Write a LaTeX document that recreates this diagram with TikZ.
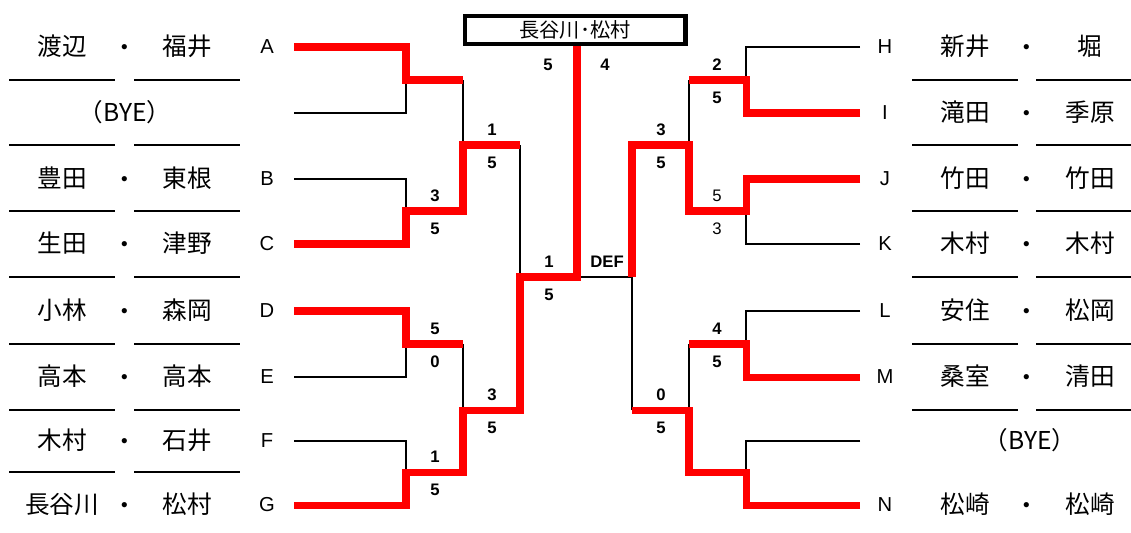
\documentclass[tikz,border=0pt]{standalone}
\usepackage{fontspec}
\setmainfont{Liberation Sans}
\newfontfamily\jp{Noto Sans CJK JP}
\usetikzlibrary{positioning}

\begin{document}
\begin{tikzpicture}[
    x=0.02cm, y=-0.02cm,
    lose/.style={line width=1.1pt},
    win/.style={line width=4pt, red},
    sep/.style={line width=0.9pt},
    player/.style={font=\jp\fontsize{14}{16}\selectfont, inner sep=0pt, text height=1em, text depth=0em},
    dotmark/.style={player, yshift=-0.02cm},
    slot/.style={font=\fontsize{11.5}{13}\selectfont, inner sep=0pt},
    champbox/.style={draw, line width=2.3pt, minimum width=4.42cm, minimum height=0.56cm, inner sep=0pt, font=\jp\fontsize{11.5}{13}\selectfont},
    score/.style={font=\bfseries\fontsize{9.5}{11}\selectfont, inner sep=0pt},
    plainscore/.style={font=\fontsize{9.5}{11}\selectfont, inner sep=0pt}
]
\useasboundingbox (0,0) rectangle (1131,532);

\foreach \y/\a/\b/\l in {47/渡辺/福井/A, 179/豊田/東根/B, 244/生田/津野/C, 311/小林/森岡/D, 377/高本/高本/E, 441/木村/石井/F, 505/長谷川/松村/G} {
  \node[player] (first\l) at (62,\y) {\a};
  \node[dotmark] (dot\l) at (125,\y) {・};
  \node[player] (second\l) at (187,\y) {\b};
  \node[slot] (l\l) at (267,\y) {\l};
  \coordinate (e\l) at (294,\y);
}
\foreach \y/\a/\b/\l in {47/新井/堀/H, 113/滝田/季原/I, 179/竹田/竹田/J, 244/木村/木村/K, 311/安住/松岡/L, 377/桑室/清田/M, 505/松崎/松崎/N} {
  \node[slot] (l\l) at (885,\y) {\l};
  \node[player] (first\l) at (965,\y) {\a};
  \node[dotmark] (dot\l) at (1027,\y) {・};
  \node[player] (second\l) at (1090,\y) {\b};
  \coordinate (e\l) at (860,\y);
}
\node[player] (bye1) at (125,113) {（BYE）};
\node[player] (bye2) at (1030,441) {（BYE）};
\coordinate (eY1) at (294,113);
\coordinate (eY2) at (860,441);

\foreach \y in {80,145,211,277,344,410,472}
  \draw[sep] (9,\y) -- (115,\y) (134,\y) -- (240,\y);
\foreach \y in {80,145,211,277,344,410}
  \draw[sep] (912,\y) -- (1018,\y) (1036,\y) -- (1131,\y);

\coordinate (m1) at (406,80);
\coordinate (m2) at (406,211);
\coordinate (m3) at (406,344);
\coordinate (m4) at (406,472);
\coordinate (q1) at (463,145);
\coordinate (q2) at (463,410);
\coordinate (s1) at (520,277);
\coordinate (f) at (577,277);
\coordinate (n1) at (746,80);
\coordinate (n2) at (746,211);
\coordinate (n3) at (746,344);
\coordinate (n4) at (746,472);
\coordinate (p1) at (689,145);
\coordinate (p2) at (689,410);
\coordinate (t1) at (632,277);

\node[champbox] (champ) at (575,30) {長谷川･松村};

\draw[lose] (eY1) -| (m1);
\draw[lose] (eB) -| (m2);
\draw[lose] (eE) -| (m3);
\draw[lose] (eF) -| (m4);
\draw[lose] (m1 -| q1) -- (q1);
\draw[lose] (m3 -| q2) -- (q2);
\draw[lose] (q1 -| s1) -- (s1);
\draw[lose] (f) -- (t1);
\draw[lose] (eH) -| (n1);
\draw[lose] (eK) -| (n2);
\draw[lose] (eL) -| (n3);
\draw[lose] (eY2) -| (n4);
\draw[lose] (n1 -| p1) -- (p1);
\draw[lose] (n3 -| p2) -- (p2);
\draw[lose] (p2 -| t1) -- (t1);

\draw[win] (eA) -| (m1) -- (m1 -| q1);
\draw[win] (eC) -| (m2) -- (m2 -| q1) -- (q1) -- (q1 -| s1);
\draw[win] (eD) -| (m3) -- (m3 -| q2);
\draw[win] (eG) -| (m4) -- (m4 -| q2) -- (q2) -- (q2 -| s1) -- (s1) -- (f) -- (f |- champ.south);
\draw[win] (eI) -| (n1) -- (n1 -| p1);
\draw[win] (eJ) -| (n2) -- (n2 -| p1) -- (p1) -- (p1 -| t1) -- (t1);
\draw[win] (eM) -| (n3) -- (n3 -| p2);
\draw[win] (eN) -| (n4) -- (n4 -| p2) -- (p2) -- (p2 -| t1);

\foreach \x/\y/\a/\b [count=\k] in {435/211/3/5, 435/344/5/0, 435/472/1/5, 492/145/1/5, 492/410/3/5, 549/277/1/5, 717/80/2/5, 717/344/4/5, 661/145/3/5, 661/410/0/5} {
  \node[score] (hi\k) at (\x,\y-15) {\a};
  \node[score] (lo\k) at (\x,\y+18) {\b};
}
\node[plainscore] (hiJ) at (717,196) {5};
\node[plainscore] (loK) at (717,229) {3};
\node[score] (finL) at (548,65) {5};
\node[score] (finR) at (605,65) {4};
\node[score] (def) at (607,262) {DEF};
\end{tikzpicture}
\end{document}
